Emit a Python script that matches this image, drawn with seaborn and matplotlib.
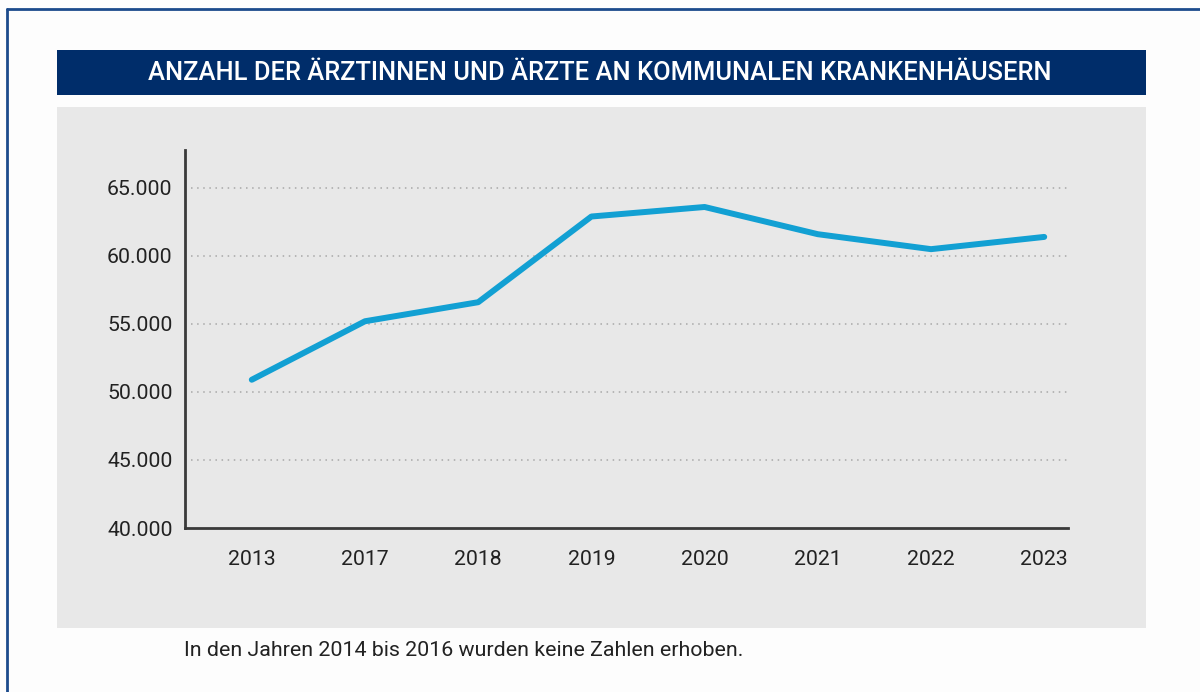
import matplotlib
matplotlib.use("Agg")
import matplotlib.pyplot as plt
import matplotlib.ticker as mticker
from matplotlib.patches import Rectangle
from matplotlib.lines import Line2D
import pandas as pd
import seaborn as sns

# data
years = ["2013", "2017", "2018", "2019", "2020", "2021", "2022", "2023"]
doctors = [50900, 55200, 56600, 62900, 63600, 61600, 60500, 61400]
y_ticks = [40000, 45000, 50000, 55000, 60000, 65000]

title = "ANZAHL DER ÄRZTINNEN UND ÄRZTE AN KOMMUNALEN KRANKENHÄUSERN"
note = "In den Jahren 2014 bis 2016 wurden keine Zahlen erhoben."

df = pd.DataFrame({"Jahr": years, "Anzahl": doctors})

sns.set_style("white")
plt.rcParams["font.family"] = ["Roboto", "DejaVu Sans"]

W, H = 1200, 692
fig = plt.figure(figsize=(W / 100, H / 100), dpi=100, facecolor="#fdfdfd")


def px_rect(x0, y0, x1, y1, color):
    fig.patches.append(Rectangle((x0 / W, 1 - y1 / H), (x1 - x0) / W, (y1 - y0) / H,
                                 transform=fig.transFigure, facecolor=color,
                                 edgecolor="none", zorder=0))


# outer frame (left and top edges visible)
fig.lines.append(Line2D([7 / W, 7 / W], [0, 1 - 9 / H], transform=fig.transFigure,
                        color="#1c4b8c", linewidth=2))
fig.lines.append(Line2D([7 / W, 1], [1 - 9 / H, 1 - 9 / H], transform=fig.transFigure,
                        color="#1c4b8c", linewidth=2))

# title bar and grey panel
px_rect(57, 50, 1146, 95, "#002d6a")
px_rect(57, 107, 1146, 628, "#e8e8e8")

fig.text(600 / W, 1 - 73 / H, title, color="white", fontsize=18.4, fontweight="medium",
         ha="center", va="center")

ax = fig.add_axes([185 / W, 1 - 528 / H, (1068 - 185) / W, (528 - 150) / H])
ax.set_zorder(2)
ax.patch.set_alpha(0)

sns.lineplot(data=df, x="Jahr", y="Anzahl", sort=False, color="#12a0d3",
             linewidth=4.3, ax=ax)

ax.set_xlim(-0.59, 7.21)
ax.set_ylim(40000, 67790)
ax.set_yticks(y_ticks)
ax.yaxis.set_major_formatter(mticker.FuncFormatter(lambda v, p: f"{int(v):,}".replace(",", ".")))
for v in y_ticks[1:]:
    ax.axhline(v, xmin=0.007, xmax=1.0, color="#a8a8a8", linestyle=(0, (1, 3)),
               linewidth=1.1, zorder=0)

ax.set_xlabel("")
ax.set_ylabel("")
for s in ["top", "right"]:
    ax.spines[s].set_visible(False)
for s in ["left", "bottom"]:
    ax.spines[s].set_color("#3a3a3a")
    ax.spines[s].set_linewidth(2)
ax.tick_params(axis="both", length=0, labelsize=15.3, labelcolor="#222222")
ax.tick_params(axis="y", pad=9)
ax.tick_params(axis="x", pad=16)

fig.text(184 / W, 1 - 650 / H, note, fontsize=15.4, color="#222222", ha="left", va="center")

fig.savefig("out.png", dpi=100, facecolor=fig.get_facecolor())
